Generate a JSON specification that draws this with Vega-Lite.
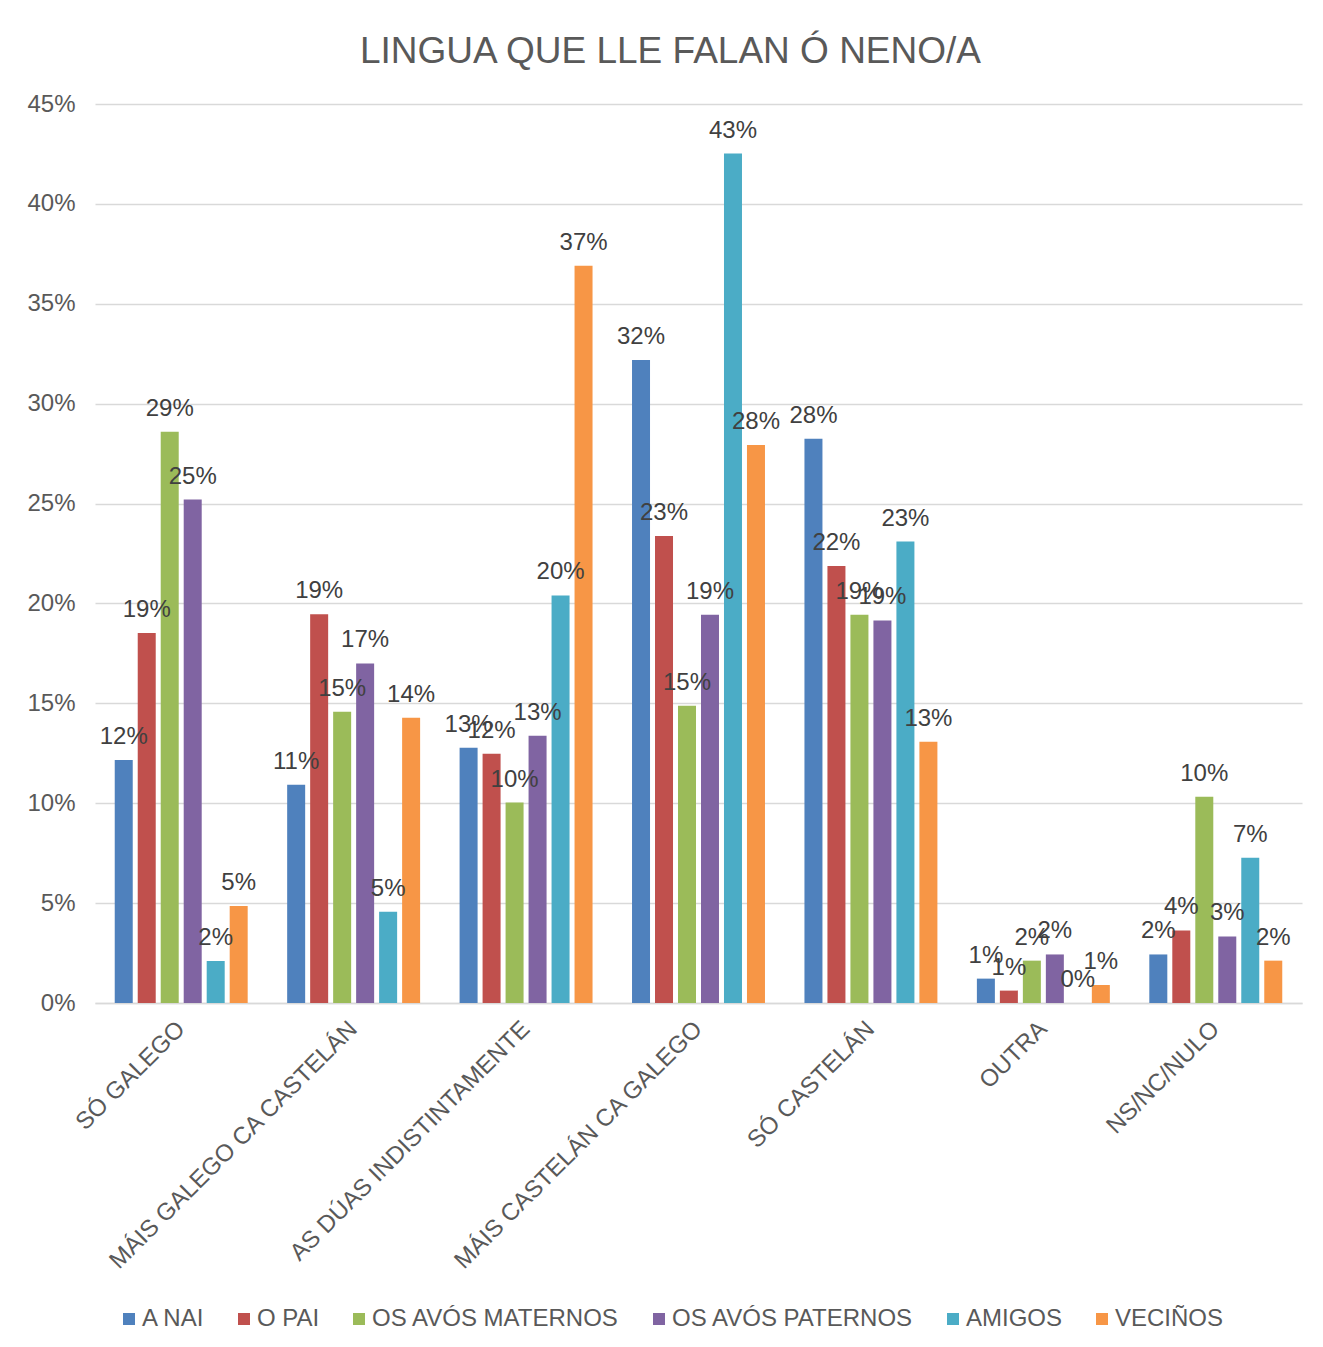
{
  "$schema": "https://vega.github.io/schema/vega-lite/v6.json",
  "autosize": {"type": "none"},
  "width": 1207,
  "height": 899,
  "padding": {"left": 95, "top": 104, "right": 21, "bottom": 344},
  "background": "white",
  "title": {
    "text": "LINGUA QUE LLE FALAN Ó NENO/A",
    "font": "Liberation Sans",
    "fontSize": 37,
    "fontWeight": "normal",
    "color": "#595959",
    "anchor": "middle",
    "offset": 21,
    "dx": -28
  },
  "data": {
    "values": [
      {"cat": "SÓ GALEGO", "serie": "A NAI", "v": 0.1216},
      {"cat": "SÓ GALEGO", "serie": "O PAI", "v": 0.1852},
      {"cat": "SÓ GALEGO", "serie": "OS AVÓS MATERNOS", "v": 0.2860},
      {"cat": "SÓ GALEGO", "serie": "OS AVÓS PATERNOS", "v": 0.2520},
      {"cat": "SÓ GALEGO", "serie": "AMIGOS", "v": 0.0210},
      {"cat": "SÓ GALEGO", "serie": "VECIÑOS", "v": 0.0486},
      {"cat": "MÁIS GALEGO CA CASTELÁN", "serie": "A NAI", "v": 0.1092},
      {"cat": "MÁIS GALEGO CA CASTELÁN", "serie": "O PAI", "v": 0.1946},
      {"cat": "MÁIS GALEGO CA CASTELÁN", "serie": "OS AVÓS MATERNOS", "v": 0.1458},
      {"cat": "MÁIS GALEGO CA CASTELÁN", "serie": "OS AVÓS PATERNOS", "v": 0.1700},
      {"cat": "MÁIS GALEGO CA CASTELÁN", "serie": "AMIGOS", "v": 0.0457},
      {"cat": "MÁIS GALEGO CA CASTELÁN", "serie": "VECIÑOS", "v": 0.1428},
      {"cat": "AS DÚAS INDISTINTAMENTE", "serie": "A NAI", "v": 0.1278},
      {"cat": "AS DÚAS INDISTINTAMENTE", "serie": "O PAI", "v": 0.1248},
      {"cat": "AS DÚAS INDISTINTAMENTE", "serie": "OS AVÓS MATERNOS", "v": 0.1003},
      {"cat": "AS DÚAS INDISTINTAMENTE", "serie": "OS AVÓS PATERNOS", "v": 0.1338},
      {"cat": "AS DÚAS INDISTINTAMENTE", "serie": "AMIGOS", "v": 0.2040},
      {"cat": "AS DÚAS INDISTINTAMENTE", "serie": "VECIÑOS", "v": 0.3690},
      {"cat": "MÁIS CASTELÁN CA GALEGO", "serie": "A NAI", "v": 0.3219},
      {"cat": "MÁIS CASTELÁN CA GALEGO", "serie": "O PAI", "v": 0.2338},
      {"cat": "MÁIS CASTELÁN CA GALEGO", "serie": "OS AVÓS MATERNOS", "v": 0.1488},
      {"cat": "MÁIS CASTELÁN CA GALEGO", "serie": "OS AVÓS PATERNOS", "v": 0.1944},
      {"cat": "MÁIS CASTELÁN CA GALEGO", "serie": "AMIGOS", "v": 0.4252},
      {"cat": "MÁIS CASTELÁN CA GALEGO", "serie": "VECIÑOS", "v": 0.2793},
      {"cat": "SÓ CASTELÁN", "serie": "A NAI", "v": 0.2825},
      {"cat": "SÓ CASTELÁN", "serie": "O PAI", "v": 0.2187},
      {"cat": "SÓ CASTELÁN", "serie": "OS AVÓS MATERNOS", "v": 0.1944},
      {"cat": "SÓ CASTELÁN", "serie": "OS AVÓS PATERNOS", "v": 0.1915},
      {"cat": "SÓ CASTELÁN", "serie": "AMIGOS", "v": 0.2310},
      {"cat": "SÓ CASTELÁN", "serie": "VECIÑOS", "v": 0.1308},
      {"cat": "OUTRA", "serie": "A NAI", "v": 0.0122},
      {"cat": "OUTRA", "serie": "O PAI", "v": 0.0062},
      {"cat": "OUTRA", "serie": "OS AVÓS MATERNOS", "v": 0.0212},
      {"cat": "OUTRA", "serie": "OS AVÓS PATERNOS", "v": 0.0243},
      {"cat": "OUTRA", "serie": "AMIGOS", "v": 0.0},
      {"cat": "OUTRA", "serie": "VECIÑOS", "v": 0.0090},
      {"cat": "NS/NC/NULO", "serie": "A NAI", "v": 0.0243},
      {"cat": "NS/NC/NULO", "serie": "O PAI", "v": 0.0363},
      {"cat": "NS/NC/NULO", "serie": "OS AVÓS MATERNOS", "v": 0.1032},
      {"cat": "NS/NC/NULO", "serie": "OS AVÓS PATERNOS", "v": 0.0333},
      {"cat": "NS/NC/NULO", "serie": "AMIGOS", "v": 0.0727},
      {"cat": "NS/NC/NULO", "serie": "VECIÑOS", "v": 0.0212}
    ]
  },
  "encoding": {
    "x": {
      "field": "cat",
      "type": "nominal",
      "sort": null,
      "scale": {"paddingInner": 0.2, "paddingOuter": 0.1},
      "axis": {
        "title": null,
        "labelAngle": -45,
        "labelAlign": "right",
        "labelBaseline": "middle",
        "labelFont": "Liberation Sans",
        "labelFontSize": 24,
        "labelColor": "#595959",
        "labelPadding": 22,
        "labelLimit": 0,
        "ticks": false,
        "domain": true,
        "domainColor": "#D9D9D9",
        "domainWidth": 1.5
      }
    },
    "xOffset": {
      "field": "serie",
      "type": "nominal",
      "sort": ["A NAI", "O PAI", "OS AVÓS MATERNOS", "OS AVÓS PATERNOS", "AMIGOS", "VECIÑOS"],
      "scale": {"paddingInner": 0.217, "paddingOuter": 0.1085}
    },
    "y": {
      "field": "v",
      "type": "quantitative",
      "scale": {"domain": [0, 0.45], "nice": false},
      "axis": {
        "title": null,
        "format": ".0%",
        "values": [0, 0.05, 0.1, 0.15, 0.2, 0.25, 0.3, 0.35, 0.4, 0.45],
        "labelFont": "Liberation Sans",
        "labelFontSize": 24,
        "labelColor": "#595959",
        "labelPadding": 20,
        "ticks": false,
        "domain": false,
        "grid": true,
        "gridColor": "#D9D9D9",
        "gridWidth": 1.5
      }
    }
  },
  "layer": [
    {
      "mark": {"type": "bar"},
      "encoding": {
        "color": {
          "field": "serie",
          "type": "nominal",
          "sort": ["A NAI", "O PAI", "OS AVÓS MATERNOS", "OS AVÓS PATERNOS", "AMIGOS", "VECIÑOS"],
          "scale": {
            "domain": ["A NAI", "O PAI", "OS AVÓS MATERNOS", "OS AVÓS PATERNOS", "AMIGOS", "VECIÑOS"],
            "range": ["#4F81BD", "#C0504D", "#9BBB59", "#8064A2", "#4BACC6", "#F79646"]
          },
          "legend": {
            "title": null,
            "orient": "none",
            "legendX": 22,
            "legendY": 1203,
            "direction": "horizontal",
            "symbolType": "square",
            "symbolSize": 144,
            "symbolStrokeWidth": 0,
            "labelFont": "Liberation Sans",
            "labelFontSize": 24,
            "labelColor": "#595959",
            "labelOffset": 1,
            "columnPadding": 27,
            "labelLimit": 0
          }
        }
      }
    },
    {
      "mark": {
        "type": "text",
        "font": "Liberation Sans",
        "fontSize": 24,
        "color": "#404040",
        "baseline": "alphabetic",
        "align": "center",
        "dy": -16
      },
      "encoding": {
        "text": {"field": "v", "type": "quantitative", "format": ".0%"}
      }
    }
  ],
  "config": {
    "view": {"stroke": null}
  }
}
